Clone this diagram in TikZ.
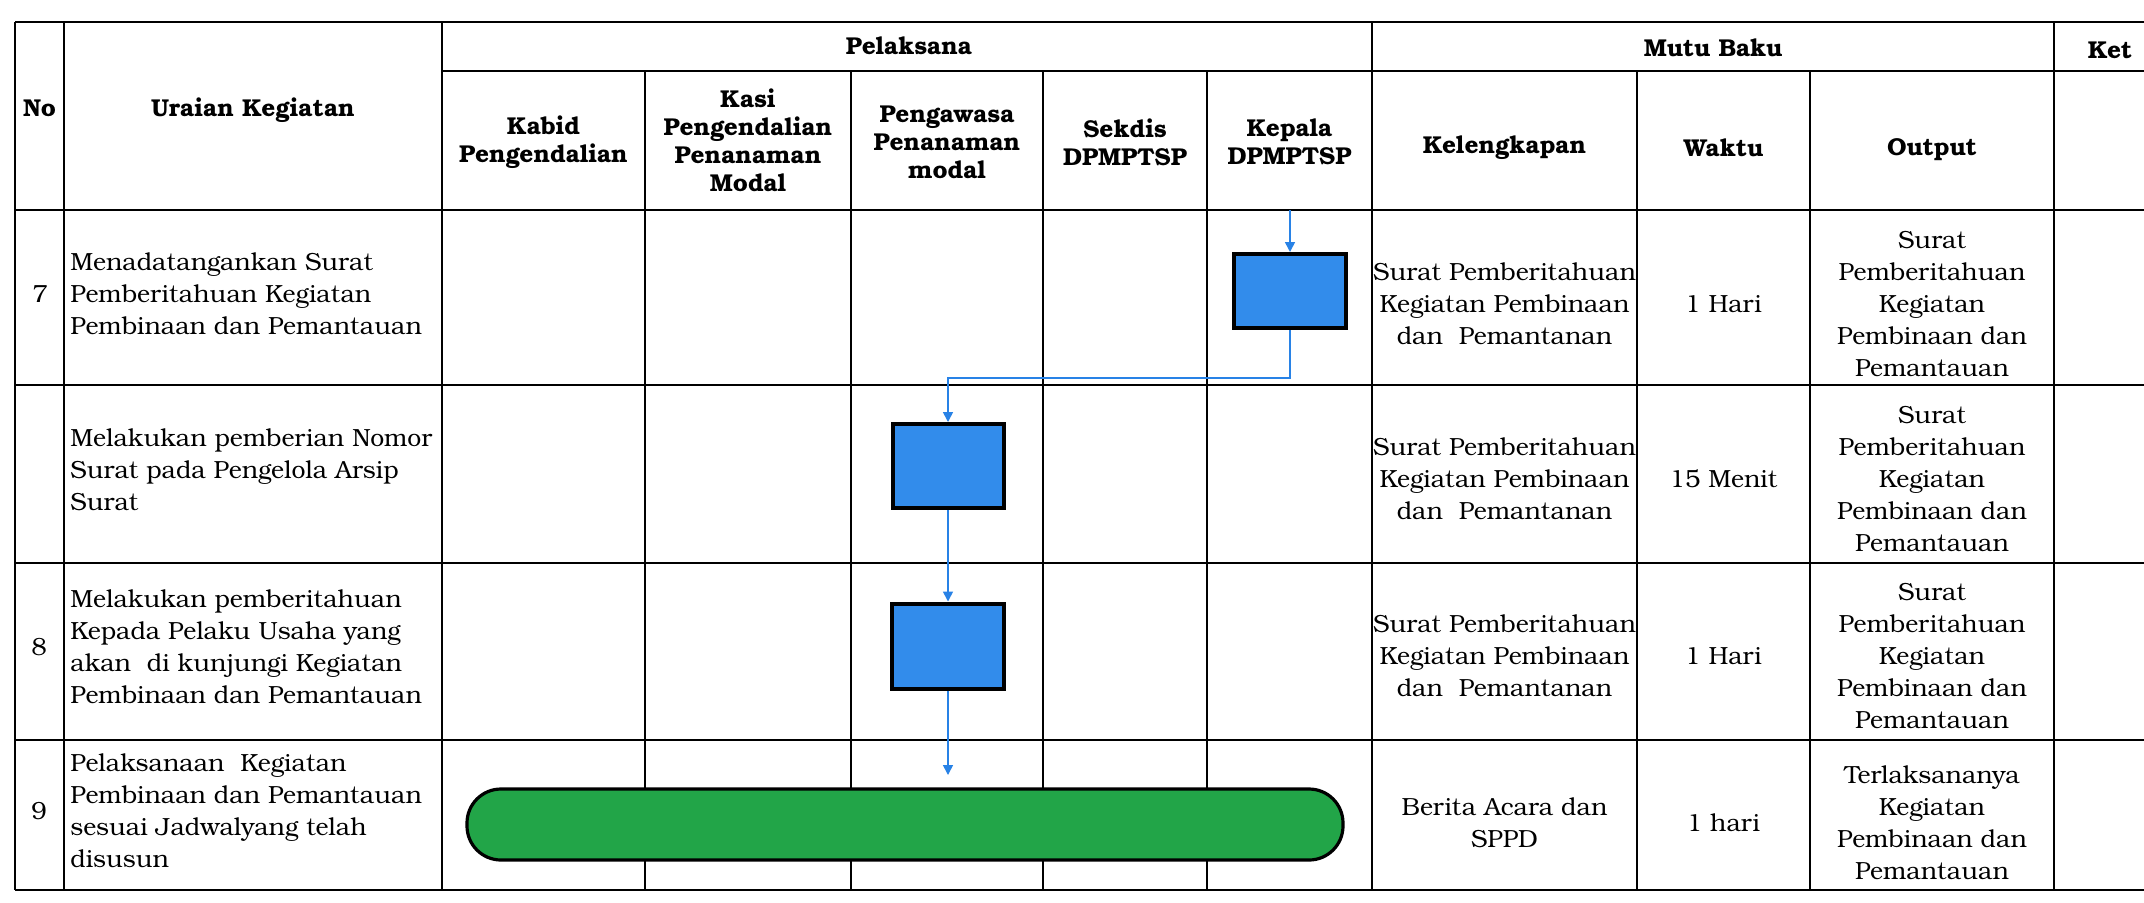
\documentclass[tikz,border=0pt]{standalone}
\usepackage{fontspec}
\setmainfont{texgyrebonum}[Extension=.otf,UprightFont=*-regular,BoldFont=*-bold,ItalicFont=*-italic,BoldItalicFont=*-bolditalic]
\usetikzlibrary{arrows.meta}
\definecolor{boxblue}{RGB}{50,140,235}
\definecolor{termgreen}{RGB}{34,165,72}
\definecolor{linkblue}{RGB}{40,130,230}
\tikzset{
  tablerule/.style={line width=1.1pt, black},
  hrule/.style={line width=1.4pt, black},
  hdr/.style={font=\fontsize{12.2}{14}\selectfont\bfseries, align=center, inner sep=0pt},
  body/.style={font=\fontsize{12.4}{16}\selectfont, inner sep=0pt},
  uraian/.style={body, align=left, anchor=west},
  cell/.style={body, align=center},
  proc/.style={draw=black, line width=2pt, fill=boxblue, inner sep=0pt},
  term/.style={draw=black, line width=1.6pt, fill=termgreen, rounded corners=17pt, minimum width=438pt, minimum height=35.5pt, inner sep=0pt},
  flow/.style={linkblue, line width=0.8pt, -{Triangle[length=5pt,width=5pt]}},
}
\begin{document}
\begin{tikzpicture}[x=0.5pt,y=-0.5pt]
\useasboundingbox (0,0) rectangle (2144,902);
\fill[white] (0,0) rectangle (2144,902);
% table rules
\draw[hrule] (15,22) -- (2144,22);
\draw[hrule] (442,71) -- (2144,71);
\foreach \yy in {210,385,563,740,890} {\draw[hrule] (15,\yy) -- (2144,\yy);}
\foreach \xx in {15,64,442,1372,2054} {\draw[tablerule] (\xx,22) -- (\xx,890);}
\foreach \xx in {645,851,1043,1207,1637,1810} {\draw[tablerule] (\xx,71) -- (\xx,890);}
% headers
\node[hdr] (hno) at (39.5,108) {No};
\node[hdr] (hur) at (253,110) {Uraian Kegiatan};
\node[hdr] (hpel) at (909,46) {Pelaksana};
\node[hdr] (hmutu) at (1713,48) {Mutu Baku};
\node[hdr] (hket) at (2110,50) {Ket};
\node[hdr] (hkabid) at (543.5,142) {Kabid\\Pengendalian};
\node[hdr] (hkasi) at (748,140) {Kasi\\Pengendalian\\Penanaman\\Modal};
\node[hdr] (hpeng) at (947,142) {Pengawasa\\Penanaman\\modal};
\node[hdr] (hsek) at (1125,142) {Sekdis\\DPMPTSP};
\node[hdr] (hkep) at (1289.5,142) {Kepala\\DPMPTSP};
\node[hdr] (hkel) at (1504.5,148) {Kelengkapan};
\node[hdr] (hwak) at (1723.5,148) {Waktu};
\node[hdr] (hout) at (1932,150) {Output};
% numbers
\node[body] (n7) at (40,294) {7};
\node[body] (n8) at (39,647) {8};
\node[body] (n9) at (39,811) {9};
% uraian
\node[uraian] (u7) at (70,294) {Menadatangankan Surat\\Pemberitahuan Kegiatan\\Pembinaan dan Pemantauan};
\node[uraian] (u7b) at (70,470) {Melakukan pemberian Nomor\\Surat pada Pengelola Arsip\\Surat};
\node[uraian] (u8) at (70,647) {Melakukan pemberitahuan\\Kepada Pelaku Usaha yang\\akan\ \ di kunjungi Kegiatan\\Pembinaan dan Pemantauan};
\node[uraian] (u9) at (70,811) {Pelaksanaan\ \ Kegiatan\\Pembinaan dan Pemantauan\\sesuai Jadwalyang telah\\disusun};
% mutu baku
\node[cell] (k7) at (1504.5,304) {Surat Pemberitahuan\\Kegiatan Pembinaan\\dan\ \ Pemantanan};
\node[cell] (w7) at (1723.5,304) {1 Hari};
\node[cell] (o7) at (1932,304) {Surat\\Pemberitahuan\\Kegiatan\\Pembinaan dan\\Pemantauan};
\node[cell] (k7b) at (1504.5,479) {Surat Pemberitahuan\\Kegiatan Pembinaan\\dan\ \ Pemantanan};
\node[cell] (w7b) at (1723.5,479) {15 Menit};
\node[cell] (o7b) at (1932,479) {Surat\\Pemberitahuan\\Kegiatan\\Pembinaan dan\\Pemantauan};
\node[cell] (k8) at (1504.5,656) {Surat Pemberitahuan\\Kegiatan Pembinaan\\dan\ \ Pemantanan};
\node[cell] (w8) at (1723.5,656) {1 Hari};
\node[cell] (o8) at (1932,656) {Surat\\Pemberitahuan\\Kegiatan\\Pembinaan dan\\Pemantauan};
\node[cell] (k9) at (1504.5,823) {Berita Acara dan\\SPPD};
\node[cell] (w9) at (1723.5,823) {1 hari};
\node[cell] (o9) at (1932,823) {Terlaksananya\\Kegiatan\\Pembinaan dan\\Pemantauan};
% flow shapes
\node[proc, minimum width=56pt, minimum height=37pt] (p7) at (1290,291) {};
\node[proc, minimum width=55.5pt, minimum height=42pt] (p7b) at (948,466) {};
\node[proc, minimum width=56pt, minimum height=42.5pt] (p8) at (948,646) {};
\node[term] (t9) at (905,824.5) {};
% connectors
\coordinate (start) at (1290,210);
\coordinate (bend) at (948,378);
\coordinate (stop) at (948,775);
\draw[flow] (start) -- (p7.north);
\draw[flow] (p7.south) |- (bend) -- (p7b.north);
\draw[flow] (p7b.south) -- (p8.north);
\draw[flow] (p8.south) -- (stop);
\end{tikzpicture}
\end{document}
